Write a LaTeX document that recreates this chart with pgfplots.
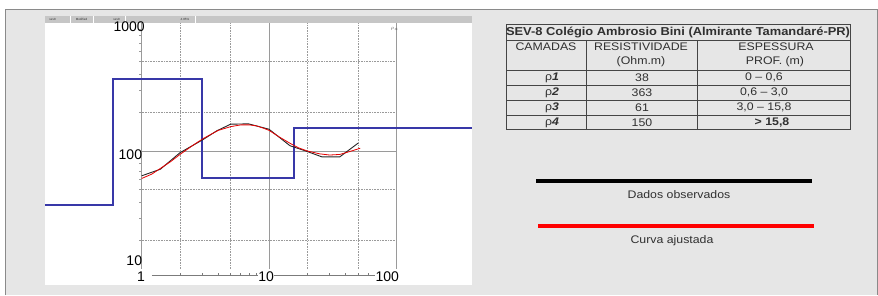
\documentclass[border=0pt]{standalone}
\usepackage{fontspec}
\setmainfont{Liberation Sans}
\usepackage{graphicx}
\usepackage{pgfplots}
\pgfplotsset{compat=1.18}
\definecolor{bg}{HTML}{E6E6E6}
\definecolor{frame}{HTML}{8A8A8A}
\definecolor{bar}{HTML}{C6C6C6}
\definecolor{gridc}{HTML}{9A9A9A}
\definecolor{modelblue}{HTML}{3838A8}
\definecolor{txt}{HTML}{303030}
\definecolor{tline}{HTML}{454545}
\newcommand\st[1]{\scalebox{1.12}[1]{#1}}
\newcommand\tf{\fontsize{11}{12}\selectfont}
\begin{document}
\begin{tikzpicture}[x=1pt,y=1pt]
\path[use as bounding box] (0,0) rectangle (878,295);
\fill[white] (0,0) rectangle (878,295);
\fill[bg] (5,0) rectangle (878,286);
\draw[frame,line width=0.8pt] (5,0) -- (5,286) -- (877,286) -- (877,0);
% panel
\fill[white] (45,10) rectangle (472,279);
\fill[bar] (45,272) rectangle (472,279);
\foreach \xx in {70,93,125,195}{\draw[white,line width=0.6pt] (\xx,272) -- (\xx,279);}
\node[font=\fontsize{3}{3}\selectfont,text=txt,inner sep=0] at (52.5,275.5) {sev8};
\node[font=\fontsize{3}{3}\selectfont,text=txt,inner sep=0] at (81.5,275.5) {Modified};
\node[font=\fontsize{3}{3}\selectfont,text=txt,inner sep=0] at (116.5,275.5) {sev8};
\node[font=\fontsize{3}{3}\selectfont,text=txt,inner sep=0] at (185,275.5) {4.85\%};
\begin{axis}[at={(45pt,16pt)},anchor=south west,scale only axis,
  width=427pt,height=256pt,xmode=log,ymode=log,
  xmin=0.174,xmax=393,ymin=10,ymax=1000,axis lines=none,clip=false]
% dotted grid
\pgfplotsinvokeforeach{20,50,200,500}{\draw[gridc,densely dotted,line width=0.6pt] (axis cs:1,#1) -- (axis cs:100,#1);}
\pgfplotsinvokeforeach{2,5,20,50}{\draw[gridc,densely dotted,line width=0.6pt] (axis cs:#1,12) -- (axis cs:#1,1000);}
% solid grid
\draw[gridc,line width=0.7pt] (axis cs:1,100) -- (axis cs:100,100);
\pgfplotsinvokeforeach{1,10,100}{\draw[gridc,line width=0.7pt] (axis cs:#1,12) -- (axis cs:#1,1000);}
% y minor ticks
\pgfplotsinvokeforeach{20,30,40,50,60,70,80,90,200,300,400,500,600,700,800,900}{\draw[gridc,line width=0.6pt] (axis cs:1,#1) -- ++(-3pt,0pt);}
% x axis line and ticks
\draw[gridc!80!black,line width=0.7pt] (axis cs:1.2,10.7) -- (axis cs:100,10.7);
\pgfplotsinvokeforeach{2,3,4,5,6,7,8,9,20,30,40,50,60,70,80,90}{\draw[gridc!80!black,line width=0.6pt] (axis cs:#1,10.7) -- ++(0pt,2pt);}
% labels
\node[anchor=east,font=\fontsize{14}{14}\selectfont,text=black,inner sep=0] at (axis cs:1.06,935) {1000};
\node[anchor=east,font=\fontsize{14}{14}\selectfont,text=black,inner sep=0] at (axis cs:1.01,93) {100};
\node[anchor=east,font=\fontsize{14}{14}\selectfont,text=black,inner sep=0] at (axis cs:1.01,13.8) {10};
\node[font=\fontsize{14}{14}\selectfont,text=black,inner sep=0.5pt,fill=white] at (axis cs:0.99,10.5) {1};
\node[font=\fontsize{14}{14}\selectfont,text=black,inner sep=0.5pt,fill=white] at (axis cs:9.5,10.5) {10};
\node[font=\fontsize{14}{14}\selectfont,text=black,inner sep=0.5pt,fill=white] at (axis cs:85,10.5) {100};
\node[font=\fontsize{5}{5}\selectfont,text=gridc!60!black,inner sep=0] at (axis cs:97,900) {$\rho_a$};
% model (blue)
\addplot[modelblue,line width=2pt] coordinates {(0.174,38) (0.6,38) (0.6,363) (3,363) (3,61) (15.8,61) (15.8,150) (393,150)};
% observed (black)
\addplot[black!85,line width=0.9pt] coordinates {(1,64) (1.4,72) (2,97) (3,122) (3.9,144) (5,162) (6.9,163) (10,148) (14.6,110) (20,99) (26,90) (36,90) (50,115)};
% fitted (red)
\addplot[red!90!black,line width=0.8pt] coordinates {(1,61) (1.2,66) (1.4,73) (1.7,83) (2,94) (2.5,110) (3,124) (3.5,135) (4,145) (5,155) (6,160) (7,160) (8,157) (9,151) (10,145) (12,129) (14.6,115) (17,106) (20,100) (25,95) (30,93) (36,94) (43,99) (52,105)};
\end{axis}
% table
\begin{scope}[tline,line width=0.8pt]
\draw[line width=1pt] (506,270) rectangle (850,165);
\draw (506,255) -- (850,255);
\draw (506,225) -- (850,225);
\draw (506,210) -- (850,210);
\draw (506,195) -- (850,195);
\draw (506,180) -- (850,180);
\draw (586,255) -- (586,165);
\draw (697,255) -- (697,165);
\end{scope}
\node[text=txt,font=\fontsize{11.5}{12}\selectfont\bfseries] at (678,262.5) {\st{SEV-8 Colégio Ambrosio Bini (Almirante Tamandaré-PR)}};
\node[text=txt,font=\tf] at (546,248) {\st{CAMADAS}};
\node[text=txt,font=\tf] at (641,248) {\st{RESISTIVIDADE}};
\node[text=txt,font=\tf] at (641,233.5) {\st{(Ohm.m)}};
\node[text=txt,font=\tf] at (776,248) {\st{ESPESSURA}};
\node[text=txt,font=\tf] at (775,233.5) {\st{PROF. (m)}};
\node[text=txt,font=\tf] at (552,217.5) {\st{ρ\textbf{\textit{1}}}};
\node[text=txt,font=\tf] at (552,202.5) {\st{ρ\textbf{\textit{2}}}};
\node[text=txt,font=\tf] at (552,187.5) {\st{ρ\textbf{\textit{3}}}};
\node[text=txt,font=\tf] at (552,172.5) {\st{ρ\textbf{\textit{4}}}};
\node[text=txt,font=\tf] at (642,217.5) {\st{38}};
\node[text=txt,font=\tf] at (642,202.5) {\st{363}};
\node[text=txt,font=\tf] at (642,187.5) {\st{61}};
\node[text=txt,font=\tf] at (642,172.5) {\st{150}};
\node[text=txt,font=\tf] at (764,217.5) {\st{0 – 0,6}};
\node[text=txt,font=\tf] at (764,202.5) {\st{0,6 – 3,0}};
\node[text=txt,font=\tf] at (764,187.5) {\st{3,0 – 15,8}};
\node[text=txt,font=\tf\bfseries] at (772,172.5) {\st{> 15,8}};
% legend
\draw[black,line width=3.5pt] (536,114) -- (812,114);
\node[text=txt,font=\tf] at (679,100) {\st{Dados observados}};
\draw[red,line width=3.5pt] (538,69) -- (814,69);
\node[text=txt,font=\tf] at (672,54.3) {\st{Curva ajustada}};
\end{tikzpicture}
\end{document}
